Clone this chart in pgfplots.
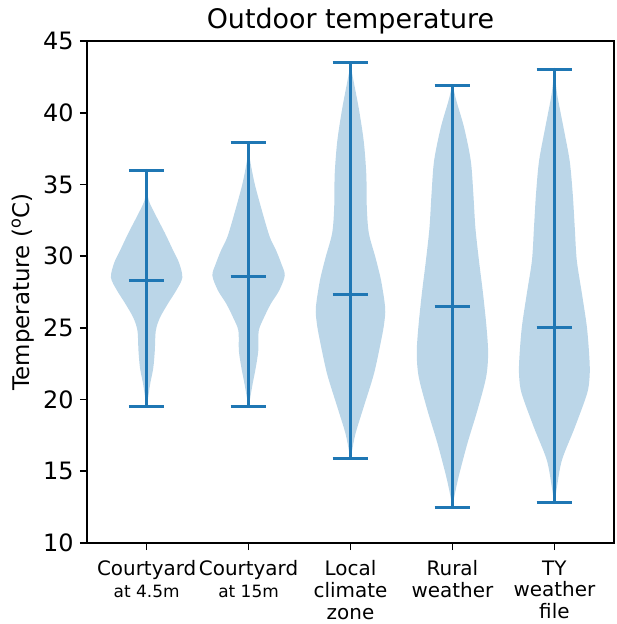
\documentclass[border=0pt]{standalone}
\usepackage{fontspec}
\setmainfont{DejaVu Sans}
\usepackage{pgfplots}
\usepackage{pgfplotstable}
\pgfplotsset{compat=1.18}
\definecolor{vfill}{HTML}{BBD6E8}
\definecolor{vline}{HTML}{1F77B4}

% violin outlines: s = side (-1 left, +1 right), T = temperature, hw = half width
\pgfplotstableread{
s T hw
-1 19.5 0.003
-1 20.0 0.012
-1 21.1 0.035
-1 22.2 0.065
-1 23.4 0.08
-1 24.8 0.09
-1 25.7 0.13
-1 26.7 0.21
-1 27.6 0.29
-1 28.5 0.35
-1 29.5 0.32
-1 30.4 0.26
-1 31.6 0.18
-1 32.7 0.10
-1 33.9 0.02
-1 35.0 0.006
-1 36.0 0.002
1 36.0 0.002
1 35.0 0.006
1 33.9 0.02
1 32.7 0.10
1 31.6 0.18
1 30.4 0.26
1 29.5 0.32
1 28.5 0.35
1 27.6 0.29
1 26.7 0.21
1 25.7 0.13
1 24.8 0.09
1 23.4 0.08
1 22.2 0.065
1 21.1 0.035
1 20.0 0.012
1 19.5 0.003
}\vA
\pgfplotstableread{
s T hw
-1 19.5 0.003
-1 19.95 0.012
-1 21.1 0.04
-1 22.2 0.07
-1 23.4 0.095
-1 24.8 0.10
-1 25.7 0.15
-1 26.7 0.22
-1 27.6 0.30
-1 28.65 0.355
-1 29.5 0.32
-1 30.4 0.27
-1 31.3 0.21
-1 32.7 0.15
-1 35.05 0.06
-1 37.0 0.008
-1 37.9 0.002
1 37.9 0.002
1 37.0 0.008
1 35.05 0.06
1 32.7 0.15
1 31.3 0.21
1 30.4 0.27
1 29.5 0.32
1 28.65 0.355
1 27.6 0.30
1 26.7 0.22
1 25.7 0.15
1 24.8 0.10
1 23.4 0.095
1 22.2 0.07
1 21.1 0.04
1 19.95 0.012
1 19.5 0.003
}\vB
\pgfplotstableread{
s T hw
-1 15.9 0.003
-1 16.3 0.012
-1 17.65 0.05
-1 19.5 0.13
-1 21.8 0.23
-1 24.1 0.30
-1 25.3 0.33
-1 26.4 0.34
-1 28.3 0.30
-1 29.9 0.245
-1 31.6 0.18
-1 33.4 0.16
-1 35.7 0.155
-1 38.0 0.13
-1 40.35 0.08
-1 42.7 0.017
-1 43.5 0.002
1 43.5 0.002
1 42.7 0.017
1 40.35 0.08
1 38.0 0.13
1 35.7 0.155
1 33.4 0.16
1 31.6 0.18
1 29.9 0.245
1 28.3 0.30
1 26.4 0.34
1 25.3 0.33
1 24.1 0.30
1 21.8 0.23
1 19.5 0.13
1 17.65 0.05
1 16.3 0.012
1 15.9 0.003
}\vC
\pgfplotstableread{
s T hw
-1 12.5 0.003
-1 13.0 0.012
-1 14.6 0.06
-1 16.95 0.147
-1 19.25 0.245
-1 21.55 0.33
-1 23.2 0.35
-1 25.0 0.335
-1 27.4 0.30
-1 29.7 0.26
-1 32.0 0.225
-1 34.35 0.205
-1 36.65 0.18
-1 38.95 0.115
-1 40.8 0.04
-1 41.9 0.002
1 41.9 0.002
1 40.8 0.04
1 38.95 0.115
1 36.65 0.18
1 34.35 0.205
1 32.0 0.225
1 29.7 0.26
1 27.4 0.30
1 25.0 0.335
1 23.2 0.35
1 21.55 0.33
1 19.25 0.245
1 16.95 0.147
1 14.6 0.06
1 13.0 0.012
1 12.5 0.003
}\vD
\pgfplotstableread{
s T hw
-1 12.8 0.003
-1 13.9 0.025
-1 15.8 0.075
-1 18.05 0.20
-1 20.4 0.32
-1 21.55 0.345
-1 22.7 0.345
-1 25.0 0.32
-1 27.4 0.27
-1 29.7 0.22
-1 32.0 0.20
-1 34.35 0.18
-1 36.65 0.15
-1 38.95 0.09
-1 41.3 0.027
-1 43.0 0.002
1 43.0 0.002
1 41.3 0.027
1 38.95 0.09
1 36.65 0.15
1 34.35 0.18
1 32.0 0.20
1 29.7 0.22
1 27.4 0.27
1 25.0 0.32
1 22.7 0.345
1 21.55 0.345
1 20.4 0.32
1 18.05 0.20
1 15.8 0.075
1 13.9 0.025
1 12.8 0.003
}\vE

\begin{document}
\begin{tikzpicture}
\useasboundingbox (0,0) rectangle (617bp,624bp);
\begin{axis}[
  at={(87bp,81bp)}, anchor=south west,
  scale only axis, width=527bp, height=502bp,
  xmin=0.415, xmax=5.585, ymin=10, ymax=45,
  xtick={1,2,3,4,5},
  xticklabels={{Courtyard\\{\fontsize{17}{22}\selectfont at 4.5m}},{Courtyard\\{\fontsize{17}{22}\selectfont at 15m}},{Local\\climate\\zone},{Rural\\weather},{TY\\weather\\file}},
  ytick={10,15,20,25,30,35,40,45},
  tick align=outside, xtick pos=bottom, ytick pos=left,
  major tick length=7bp,
  axis line style={line width=1.6bp, black},
  tick style={line width=1.6bp, black},
  /pgf/number format/assume math mode=true,
  yticklabel style={font=\fontsize{24}{28}\selectfont, xshift=-3bp},
  xticklabel style={font=\fontsize{20}{22}\selectfont, align=center, yshift=-7bp},
  ylabel={Temperature (\textsuperscript{o}C)},
  ylabel style={font=\fontsize{23}{26}\selectfont, at={(axis description cs:0,0.5)}, anchor=center, yshift=64bp},
  title={Outdoor temperature},
  title style={font=\fontsize{27}{31}\selectfont, anchor=base, yshift=6.7bp},
  unbounded coords=jump,
]
\addplot[fill=vfill, draw=none, smooth] table[x expr=1+\thisrow{s}*\thisrow{hw}, y=T]{\vA};
\addplot[fill=vfill, draw=none, smooth] table[x expr=2+\thisrow{s}*\thisrow{hw}, y=T]{\vB};
\addplot[fill=vfill, draw=none, smooth] table[x expr=3+\thisrow{s}*\thisrow{hw}, y=T]{\vC};
\addplot[fill=vfill, draw=none, smooth] table[x expr=4+\thisrow{s}*\thisrow{hw}, y=T]{\vD};
\addplot[fill=vfill, draw=none, smooth] table[x expr=5+\thisrow{s}*\thisrow{hw}, y=T]{\vE};
% extrema lines, caps and mean bars
\addplot[vline, line width=3bp] table {
x y
1 19.5
1 36.0
nan nan
0.825 19.5
1.175 19.5
nan nan
0.825 36.0
1.175 36.0
nan nan
0.825 28.3
1.175 28.3
nan nan
2 19.5
2 37.9
nan nan
1.825 19.5
2.175 19.5
nan nan
1.825 37.9
2.175 37.9
nan nan
1.825 28.6
2.175 28.6
nan nan
3 15.9
3 43.5
nan nan
2.825 15.9
3.175 15.9
nan nan
2.825 43.5
3.175 43.5
nan nan
2.825 27.3
3.175 27.3
nan nan
4 12.5
4 41.9
nan nan
3.825 12.5
4.175 12.5
nan nan
3.825 41.9
4.175 41.9
nan nan
3.825 26.5
4.175 26.5
nan nan
5 12.8
5 43.0
nan nan
4.825 12.8
5.175 12.8
nan nan
4.825 43.0
5.175 43.0
nan nan
4.825 25.0
5.175 25.0
};
\end{axis}
\end{tikzpicture}
\end{document}
